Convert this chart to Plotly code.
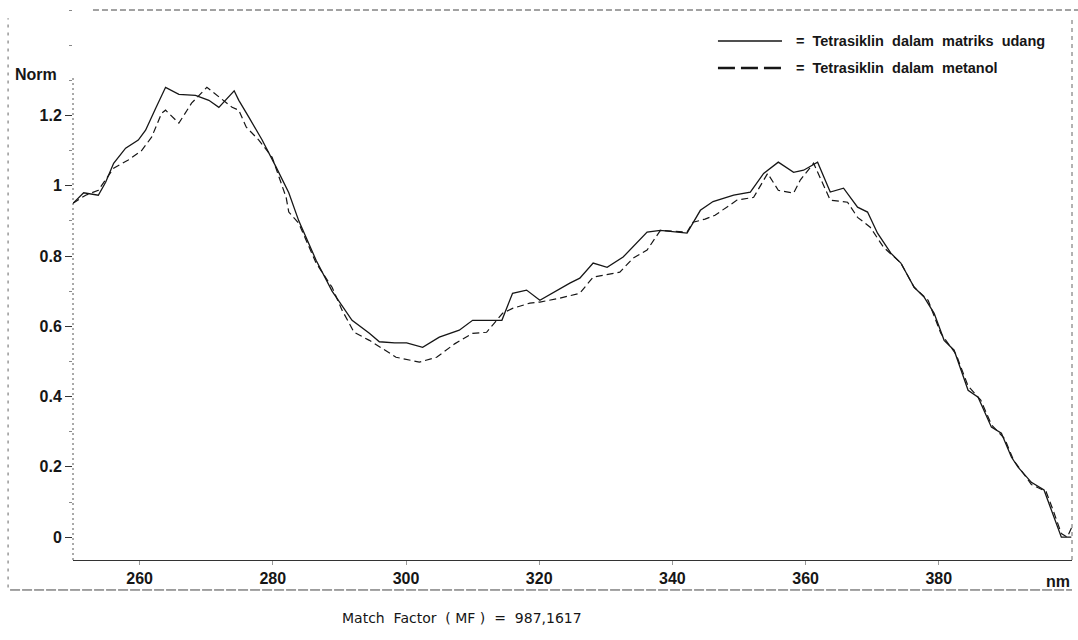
import plotly.graph_objects as go

# ---- data (wavelength in nm, normalised absorbance) ----
wl_udang = [250.0, 251.6, 253.8, 254.9, 256.1, 257.9, 259.8, 260.9, 262.4, 263.9,
            265.9, 268.4, 270.4, 271.9, 274.2, 274.9, 276.4, 278.4, 280.5, 282.4,
            283.9, 286.5, 288.9, 291.9, 294.5, 296.0, 298.3, 300.1, 302.5, 305.0,
            308.0, 310.0, 314.4, 316.0, 318.1, 320.1, 324.6, 326.1, 328.1, 330.2,
            332.6, 336.2, 338.2, 342.2, 344.2, 346.1, 349.2, 351.7, 353.7, 355.9,
            358.2, 359.7, 361.8, 363.7, 365.7, 367.8, 369.3, 370.8, 372.8, 374.3,
            376.3, 377.8, 379.3, 380.8, 382.3, 384.4, 385.9, 387.9, 389.4, 390.9,
            391.9, 393.9, 395.8, 398.1, 398.4, 399.9]
norm_udang = [0.95, 0.98, 0.973, 1.01, 1.064, 1.107, 1.13, 1.158, 1.22, 1.28,
              1.26, 1.257, 1.243, 1.223, 1.27, 1.243, 1.195, 1.13, 1.053, 0.98,
              0.90, 0.788, 0.70, 0.617, 0.58, 0.556, 0.553, 0.553, 0.54, 0.569,
              0.589, 0.617, 0.617, 0.694, 0.703, 0.674, 0.723, 0.737, 0.78, 0.768,
              0.797, 0.868, 0.873, 0.865, 0.93, 0.955, 0.973, 0.982, 1.035, 1.067,
              1.038, 1.044, 1.067, 0.982, 0.993, 0.939, 0.925, 0.865, 0.808, 0.78,
              0.711, 0.683, 0.637, 0.56, 0.532, 0.418, 0.398, 0.313, 0.296, 0.228,
              0.199, 0.156, 0.134, 0.011, 0.0, 0.0]

wl_metanol = [250.0, 251.9, 253.8, 256.1, 258.3, 260.3, 261.8, 263.3, 263.9, 265.9,
              267.8, 270.1, 273.9, 274.9, 276.0, 277.9, 279.9, 282.0, 282.4, 283.9,
              286.5, 288.9, 290.4, 292.2, 294.5, 296.4, 298.5, 302.0, 304.6, 307.3,
              310.0, 312.1, 314.5, 316.0, 318.6, 320.1, 323.1, 326.1, 328.1, 332.1,
              334.1, 336.2, 338.2, 342.2, 343.1, 344.9, 346.4, 349.7, 352.2, 354.3,
              355.9, 358.2, 359.2, 361.2, 363.7, 366.3, 367.8, 369.7, 371.7, 374.3,
              376.3, 378.4, 380.3, 382.6, 384.4, 386.3, 387.9, 389.9, 391.2, 393.9,
              396.1, 397.1, 398.4, 399.3, 400.0]
norm_metanol = [0.95, 0.973, 0.987, 1.05, 1.073, 1.10, 1.138, 1.206, 1.215, 1.178,
                1.235, 1.28, 1.223, 1.215, 1.167, 1.13, 1.081, 0.967, 0.925, 0.893,
                0.78, 0.711, 0.646, 0.583, 0.56, 0.538, 0.512, 0.498, 0.512, 0.55,
                0.58, 0.583, 0.637, 0.651, 0.666, 0.669, 0.68, 0.694, 0.74, 0.754,
                0.794, 0.817, 0.873, 0.868, 0.896, 0.905, 0.916, 0.959, 0.967, 1.035,
                0.987, 0.979, 1.016, 1.064, 0.959, 0.953, 0.91, 0.882, 0.825, 0.78,
                0.711, 0.674, 0.58, 0.52, 0.43, 0.39, 0.32, 0.28, 0.22, 0.15,
                0.13, 0.08, 0.01, 0.0, 0.03]

x_tickvals = [260, 280, 300, 320, 340, 360, 380]
y_tickvals = [0, 0.2, 0.4, 0.6, 0.8, 1.0, 1.2]
y_ticktext = ["0", "0.2", "0.4", "0.6", "0.8", "1", "1.2"]
legend_labels = ["=\u00a0\u00a0Tetrasiklin\u00a0\u00a0dalam\u00a0\u00a0matriks\u00a0\u00a0udang",
                 "=\u00a0\u00a0Tetrasiklin\u00a0\u00a0dalam\u00a0\u00a0metanol"]
mf_text = "Match\u00a0\u00a0Factor\u00a0\u00a0(\u00a0MF\u00a0)\u00a0\u00a0=\u00a0\u00a0987,1617"

INK = "#161616"
FONT = "Liberation Sans, Arial, sans-serif"

fig = go.Figure()
fig.add_trace(go.Scatter(x=wl_udang, y=norm_udang, mode="lines",
                         name="Tetrasiklin dalam matriks udang",
                         line=dict(color=INK, width=1.3), showlegend=False))
fig.add_trace(go.Scatter(x=wl_metanol, y=norm_metanol, mode="lines",
                         name="Tetrasiklin dalam metanol",
                         line=dict(color=INK, width=1.2, dash="7px,4px"), showlegend=False))

fig.update_layout(
    width=1078, height=640,
    margin=dict(l=73, r=6, t=10, b=80),
    paper_bgcolor="white", plot_bgcolor="rgba(0,0,0,0)",
    font=dict(family=FONT, color=INK, size=14),
)
fig.update_xaxes(range=[250, 400], tickvals=x_tickvals, showgrid=False, zeroline=False,
                 showline=True, linecolor="#333", linewidth=1,
                 ticks="outside", ticklen=4, tickcolor="#999",
                 tickfont=dict(size=16, family=FONT, weight="bold"))
fig.update_yaxes(range=[-0.065, 1.5], tickvals=y_tickvals, ticktext=y_ticktext,
                 showgrid=False, zeroline=False, showline=False,
                 ticks="outside", ticklen=7, tickcolor="#333",
                 minor=dict(ticks="outside", ticklen=3, tickcolor="#888", dtick=0.1),
                 tickfont=dict(size=16, family=FONT, weight="bold"))

shapes = []
# frame lines (scan style)
shapes.append(dict(type="line", xref="paper", yref="paper", x0=0, x1=0, y0=0, y1=0.88,
                   line=dict(color="#555", width=1, dash="2px,3px")))
shapes.append(dict(type="line", xref="paper", yref="paper", x0=0.02, x1=1.006, y0=1, y1=1,
                   line=dict(color="#444", width=1, dash="6px,3px")))
shapes.append(dict(type="line", xref="paper", yref="paper", x0=1, x1=1, y0=0, y1=0.985,
                   line=dict(color="#666", width=1, dash="4px,4px")))
shapes.append(dict(type="line", xref="paper", yref="paper", x0=-0.065, x1=-0.065, y0=-0.05, y1=0.985,
                   line=dict(color="#666", width=1, dash="3px,5px")))
shapes.append(dict(type="line", xref="paper", yref="paper", x0=-0.063, x1=1, y0=-0.0545, y1=-0.0545,
                   line=dict(color="#444", width=1, dash="10px,2px")))
# legend samples
shapes.append(dict(type="line", xref="paper", yref="paper", x0=0.6456, x1=0.7097, y0=0.9436, y1=0.9436,
                   line=dict(color=INK, width=1.5)))
shapes.append(dict(type="line", xref="paper", yref="paper", x0=0.6456, x1=0.7097, y0=0.8945, y1=0.8945,
                   line=dict(color=INK, width=2.5, dash="17px,6px")))
fig.update_layout(shapes=shapes)

ann = []
ann.append(dict(xref="paper", yref="paper", x=0.7217, y=0.9436, text=legend_labels[0],
                showarrow=False, xanchor="left", yanchor="middle",
                font=dict(size=14.5, family=FONT, weight="bold", color=INK)))
ann.append(dict(xref="paper", yref="paper", x=0.7217, y=0.8945, text=legend_labels[1],
                showarrow=False, xanchor="left", yanchor="middle",
                font=dict(size=14.5, family=FONT, weight="bold", color=INK)))
ann.append(dict(xref="paper", yref="paper", x=-0.014, y=(560 - 75) / 550, text="Norm",
                showarrow=False, xanchor="right", yanchor="middle",
                font=dict(size=16, family=FONT, weight="bold", color=INK)))
ann.append(dict(xref="paper", yref="paper", x=1.0, y=(560 - 581) / 550, text="nm",
                showarrow=False, xanchor="right", yanchor="middle",
                font=dict(size=16, family=FONT, weight="bold", color=INK)))
ann.append(dict(xref="paper", yref="paper", x=(340 - 73) / 999, y=(560 - 618) / 550, text=mf_text,
                showarrow=False, xanchor="left", yanchor="middle",
                font=dict(size=14, family="DejaVu Sans, Verdana, sans-serif", color=INK)))
fig.update_layout(annotations=ann)

fig.write_html("out.html")
